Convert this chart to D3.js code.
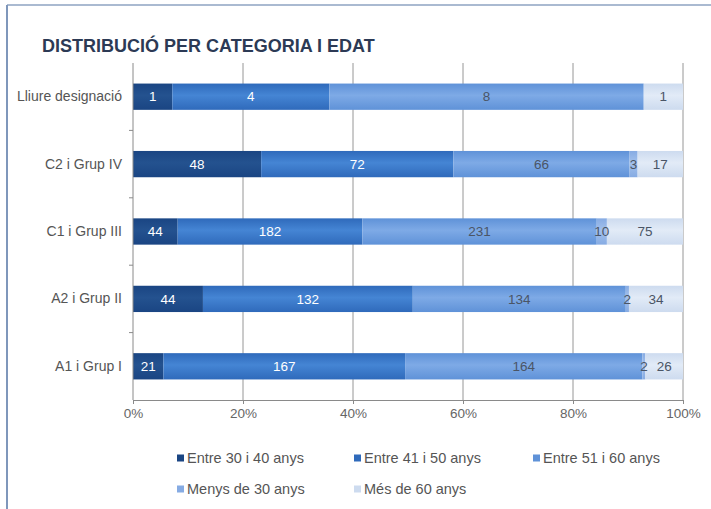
<!DOCTYPE html>
<html>
<head>
<meta charset="utf-8">
<script src="https://cdn.jsdelivr.net/npm/d3@7"></script>
<style>
  html, body { margin: 0; padding: 0; background: #fff; }
  svg { display: block; font-family: "Liberation Sans", Arial, sans-serif; }
</style>
</head>
<body>
<svg id="chart" width="711" height="509"></svg>
<script>
const categories = ["Lliure designació", "C2 i Grup IV", "C1 i Grup III", "A2 i Grup II", "A1 i Grup I"];
const seriesNames = ["Entre 30 i 40 anys", "Entre 41 i 50 anys", "Entre 51 i 60 anys", "Menys de 30 anys", "Més de 60 anys"];
const entre30i40 = [1, 48, 44, 44, 21];
const entre41i50 = [4, 72, 182, 132, 167];
const entre51i60 = [8, 66, 231, 134, 164];
const menysDe30 = [0, 3, 10, 2, 2];
const mesDe60 = [1, 17, 75, 34, 26];
const xTickValues = [0, 0.2, 0.4, 0.6, 0.8, 1];
const title = "DISTRIBUCIÓ PER CATEGORIA I EDAT";

const seriesValues = [entre30i40, entre41i50, entre51i60, menysDe30, mesDe60];
const colors = [
  { edge: "#1a4583", mid: "#24528f", text: "#ffffff" },
  { edge: "#2f6abb", mid: "#4585d4", text: "#ffffff" },
  { edge: "#5f92d8", mid: "#7eaae6", text: "#4a5566" },
  { edge: "#86abe3", mid: "#a3c1ec", text: "#4a5566" },
  { edge: "#cddbef", mid: "#e2ebf7", text: "#4a5566" }
];

const table = categories.map((c, i) => {
  const row = { category: c };
  seriesNames.forEach((s, j) => row[s] = seriesValues[j][i]);
  return row;
});

const stacked = d3.stack().keys(seriesNames).offset(d3.stackOffsetExpand)(table);

const svg = d3.select("#chart");
const defs = svg.append("defs");
colors.forEach((c, i) => {
  const g = defs.append("linearGradient").attr("id", "grad" + i)
    .attr("x1", 0).attr("y1", 0).attr("x2", 0).attr("y2", 1);
  g.append("stop").attr("offset", "0%").attr("stop-color", c.edge);
  g.append("stop").attr("offset", "45%").attr("stop-color", c.mid);
  g.append("stop").attr("offset", "100%").attr("stop-color", c.edge);
});

// frame
svg.append("line").attr("x1", 7).attr("x2", 711).attr("y1", 5).attr("y2", 5)
  .attr("stroke", "#8ea3c2").attr("stroke-width", 1.5);
svg.append("line").attr("x1", 7).attr("x2", 7).attr("y1", 5).attr("y2", 509)
  .attr("stroke", "#7f97bb").attr("stroke-width", 2);

// title
svg.append("text").attr("x", 42).attr("y", 52)
  .attr("font-size", 18).attr("font-weight", "bold").attr("fill", "#2c3a55")
  .text(title);

const x = d3.scaleLinear().domain([0, 1]).range([133, 683]);
const y = d3.scaleBand().domain(categories).range([63, 400]).paddingInner(0.61).paddingOuter(0.305);

// gridlines
svg.append("g").selectAll("line").data(xTickValues.slice(1)).join("line")
  .attr("x1", d => x(d)).attr("x2", d => x(d)).attr("y1", 63).attr("y2", 400)
  .attr("stroke", "#969696").attr("stroke-width", 1);

// bars
const layers = svg.append("g").selectAll("g").data(stacked).join("g")
  .attr("fill", (d, i) => "url(#grad" + i + ")");
layers.selectAll("rect").data(d => d).join("rect")
  .attr("x", d => x(d[0]))
  .attr("y", d => y(d.data.category))
  .attr("width", d => Math.max(0, x(d[1]) - x(d[0])))
  .attr("height", y.bandwidth());

// value labels
stacked.forEach((layer, i) => {
  svg.append("g").selectAll("text").data(layer.filter(d => d.data[layer.key] > 0)).join("text")
    .attr("x", d => (x(d[0]) + x(d[1])) / 2)
    .attr("y", d => y(d.data.category) + y.bandwidth() / 2)
    .attr("dy", "0.35em")
    .attr("text-anchor", "middle")
    .attr("font-size", 13.5)
    .attr("fill", colors[i].text)
    .text(d => d.data[layer.key]);
});

// x axis
const xAxis = svg.append("g").attr("transform", "translate(0,400)")
  .call(d3.axisBottom(x).tickValues(xTickValues).tickFormat(d3.format(".0%")).tickSizeOuter(0).tickSize(4));
xAxis.select(".domain").attr("stroke", "#8a8a8a");
xAxis.selectAll(".tick line").attr("stroke", "#8a8a8a");
xAxis.selectAll(".tick text").attr("font-size", 13.5).attr("fill", "#666").attr("y", 8).attr("dy", "0.71em")
  .attr("font-family", "Liberation Sans, Arial, sans-serif");

// y axis
const yAxis = svg.append("g").attr("transform", "translate(133,0)")
  .call(d3.axisLeft(y).tickSize(0).tickPadding(11).tickSizeOuter(0));
yAxis.select(".domain").attr("stroke", "#8a8a8a").attr("d", "M0,63V400");
yAxis.selectAll(".tick text").attr("font-size", 14).attr("fill", "#555")
  .attr("font-family", "Liberation Sans, Arial, sans-serif");
// category separator ticks
const step = y.step();
svg.append("g").selectAll("line").data(categories.slice(1)).join("line")
  .attr("x1", 129).attr("x2", 133)
  .attr("y1", d => y(d) - (step - y.bandwidth()) / 2)
  .attr("y2", d => y(d) - (step - y.bandwidth()) / 2)
  .attr("stroke", "#8a8a8a");

// legend
const legendPos = [[177, 458], [354, 458], [533, 458], [177, 489], [354, 489]];
const legend = svg.append("g").selectAll("g").data(seriesNames).join("g")
  .attr("transform", (d, i) => `translate(${legendPos[i][0]},${legendPos[i][1]})`);
legend.append("rect").attr("x", 0).attr("y", -3.5).attr("width", 7).attr("height", 7)
  .attr("fill", (d, i) => colors[i].edge);
legend.append("text").attr("x", 10).attr("dy", "0.35em").attr("font-size", 14.5).attr("fill", "#555")
  .text(d => d);
</script>
</body>
</html>
